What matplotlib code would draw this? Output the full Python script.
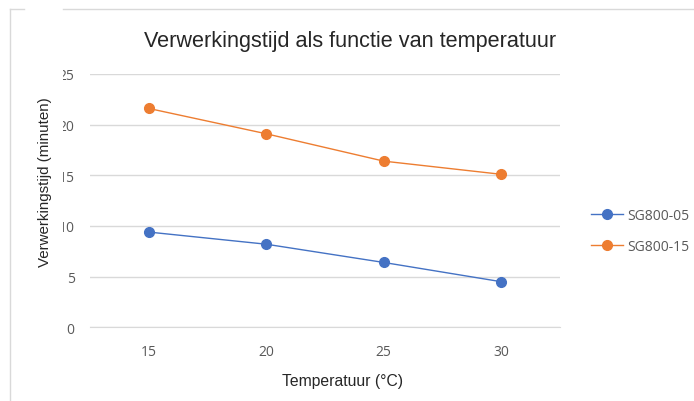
import matplotlib
matplotlib.use("Agg")
import matplotlib.pyplot as plt
from matplotlib.lines import Line2D
from matplotlib.patches import Rectangle

# data
temperatures = ["15", "20", "25", "30"]
sg800_05 = [9.4, 8.2, 6.4, 4.5]
sg800_15 = [21.6, 19.1, 16.4, 15.1]
y_ticks = [0, 5, 10, 15, 20, 25]

blue = "#4472C4"
orange = "#ED7D31"
grid_col = "#D9D9D9"
text_col = "#595959"
sans = ["Liberation Sans", "DejaVu Sans"]
tickfont = ["Open Sans", "DejaVu Sans"]

W, H = 694, 402
fig = plt.figure(figsize=(W / 100, H / 100), dpi=100)
ax = fig.add_axes([90 / W, (H - 328.3) / H, 470 / W, 253.3 / H])

x = list(range(len(temperatures)))
ax.plot(x, sg800_05, color=blue, lw=1.0, marker="o", ms=7, label="SG800-05", zorder=3)
ax.plot(x, sg800_15, color=orange, lw=1.0, marker="o", ms=7, label="SG800-15", zorder=3)

ax.set_xlim(-0.5, len(temperatures) - 0.5)
ax.set_ylim(0, 25)
ax.set_xticks(x)
ax.set_xticklabels(temperatures)
ax.set_yticks(y_ticks)
ax.set_yticklabels([str(v) for v in y_ticks])
for lab in ax.get_xticklabels() + ax.get_yticklabels():
    lab.set_fontfamily(tickfont)
    lab.set_fontsize(10)
    lab.set_color(text_col)
ax.tick_params(axis="both", length=0)
ax.tick_params(axis="y", pad=11)
ax.tick_params(axis="x", pad=12)

ax.grid(axis="y", color=grid_col, lw=1.0)
ax.set_axisbelow(True)
for s in ["top", "right", "left"]:
    ax.spines[s].set_visible(False)
ax.spines["bottom"].set_color(grid_col)

ax.set_xlabel("Temperatuur (°C)", fontfamily=sans, fontsize=11.3, color="#262626")
ax.xaxis.label.set_va("center")
ax.xaxis.set_label_coords((343 - 90) / 470, (328.3 - 382) / 253.3)

# white box of the y title hides the left part of the tick labels, as in the reference
fig.add_artist(Rectangle((28 / W, 1 - 292 / H), (63 - 28) / W, (292 - 66) / H,
                         facecolor="white", edgecolor="none", zorder=2))
fig.text(45 / W, 1 - 182 / H, "Verwerkingstijd (minuten)", rotation=90,
         ha="center", va="center", fontfamily=sans, fontsize=10.9, color="#262626", zorder=3)

fig.text(350 / W, 1 - 42 / H, "Verwerkingstijd als functie van temperatuur",
         ha="center", va="center", fontfamily=sans, fontsize=15.6, color="#262626")

leg = fig.legend(loc="center left", bbox_to_anchor=(584 / W, 1 - 232 / H), frameon=False,
                 prop={"family": tickfont, "size": 10}, handlelength=2.3, labelspacing=1.2,
                 handletextpad=0.3, borderpad=0)
for t in leg.get_texts():
    t.set_color(text_col)

# chart border (partly cut off in the reference)
fig.add_artist(Line2D([10 / W, 24 / W], [1 - 10 / H, 1 - 10 / H], color=grid_col, lw=1))
fig.add_artist(Line2D([63 / W, 693 / W], [1 - 10 / H, 1 - 10 / H], color=grid_col, lw=1))
fig.add_artist(Line2D([10 / W, 10 / W], [1 - 10 / H, 0], color=grid_col, lw=1))

fig.savefig("out.png", dpi=100)
